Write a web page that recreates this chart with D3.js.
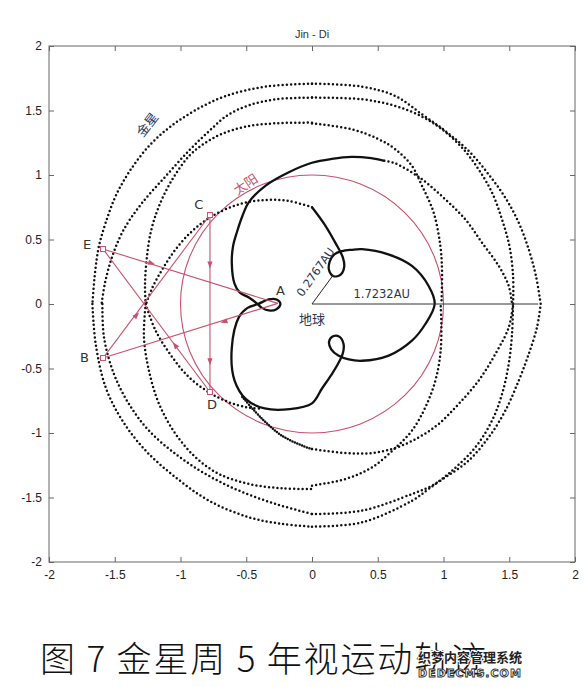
<!DOCTYPE html>
<html><head><meta charset="utf-8">
<script src="https://cdn.jsdelivr.net/npm/d3@7"></script>
<style>body{margin:0;background:#fff}svg{display:block}</style>
</head><body>
<svg id="c" width="587" height="687"></svg>
<script>
const title = "Jin - Di";
const caption = "图 7 金星周 5 年视运动轨迹";
const xTicks = [-2,-1.5,-1,-0.5,0,0.5,1,1.5,2];
const yTicks = [-2,-1.5,-1,-0.5,0,0.5,1,1.5,2];
const xTickLabels = ["-2","-1.5","-1","-0.5","0","0.5","1","1.5","2"];
const yTickLabels = ["-2","-1.5","-1","-0.5","0","0.5","1","1.5","2"];

// dense (solid-looking) part of Venus' geocentric path
const venusSolid = [[0,0.75],[0.10,0.61],[0.18,0.47],[0.235,0.36],[0.245,0.29],[0.22,0.23],[0.165,0.215],[0.13,0.26],[0.135,0.33],[0.17,0.385],[0.23,0.41],[0.30,0.42],[0.38,0.425],[0.58,0.385],[0.76,0.295],[0.887,0.14],[0.933,0.0],[0.862,-0.155],[0.76,-0.284],[0.583,-0.40],[0.38,-0.44],[0.28,-0.43],[0.20,-0.40],[0.145,-0.35],[0.13,-0.29],[0.16,-0.25],[0.21,-0.255],[0.24,-0.31],[0.235,-0.38],[0.20,-0.46],[0.15,-0.545],[0.076,-0.655],[0,-0.77],[-0.17,-0.815],[-0.36,-0.81],[-0.50,-0.74],[-0.59,-0.59],[-0.61,-0.34],[-0.555,-0.10],[-0.49,-0.03],[-0.41,0.0],[-0.33,0.035],[-0.27,0.035],[-0.24,0.0],[-0.27,-0.04],[-0.33,-0.05],[-0.38,-0.03],[-0.42,0.005],[-0.48,0.05],[-0.55,0.09],[-0.59,0.16],[-0.61,0.32],[-0.60,0.45],[-0.57,0.56],[-0.53,0.68],[-0.48,0.79],[-0.35,0.92],[-0.18,1.02],[0,1.095],[0.15,1.125],[0.30,1.14],[0.45,1.13],[0.55,1.11]];
// denser dotted arc
const venusDense = [[-0.53,-0.72],[-0.38,-0.89],[-0.23,-1.02],[-0.07,-1.10],[0,-1.124]];
// sparse dotted arcs
const arcLa = [[0,1.708],[-0.352,1.685],[-0.657,1.612],[-0.890,1.500],[-1.080,1.372],[-1.232,1.233],[-1.380,1.040],[-1.493,0.837],[-1.569,0.630],[-1.620,0.450],[-1.650,0.243],[-1.670,0.0]];
const arcLb = [[0,1.600],[-0.276,1.587],[-0.479,1.540],[-0.640,1.465],[-0.783,1.340],[-0.935,1.190],[-1.113,0.990],[-1.290,0.786],[-1.430,0.579],[-1.518,0.372],[-1.574,0.165],[-1.600,0.0]];
const arcLc = [[0,1.406],[-0.276,1.401],[-0.504,1.375],[-0.682,1.320],[-0.809,1.251],[-0.935,1.147],[-1.062,0.966],[-1.163,0.760],[-1.227,0.553],[-1.260,0.320],[-1.270,0.140],[-1.265,0.0]];
const arcLd = [[0,0.75],[-0.175,0.798],[-0.352,0.806],[-0.555,0.773],[-0.758,0.682],[-0.910,0.566],[-1.037,0.424],[-1.138,0.269],[-1.214,0.127],[-1.262,0.0]];
const arcT1 = [[0,1.708],[0.380,1.685],[0.634,1.612],[0.837,1.470],[1.014,1.341],[1.191,1.186],[1.343,1.005],[1.470,0.824],[1.572,0.630],[1.648,0.424],[1.703,0.217],[1.739,0.0]];
const arcT2 = [[0,1.600],[0.380,1.587],[0.634,1.535],[0.837,1.452],[0.989,1.354],[1.141,1.212],[1.267,1.044],[1.369,0.863],[1.445,0.656],[1.501,0.450],[1.529,0.217],[1.529,0.0]];
const arcT3 = [[0,1.40],[0.304,1.354],[0.507,1.277],[0.634,1.199],[0.760,1.070],[0.837,0.915],[0.925,0.708],[0.976,0.450],[0.989,0.243],[0.984,0.0]];
const arcT4 = [[0.55,1.11],[0.634,1.090],[0.837,0.966],[1.014,0.811],[1.166,0.656],[1.293,0.475],[1.420,0.295],[1.496,0.140],[1.521,0.0]];
const arcZ1 = [[0,-1.124],[0.253,-1.155],[0.456,-1.155],[0.634,-1.116],[0.811,-1.034],[0.963,-0.930],[1.115,-0.775],[1.267,-0.594],[1.394,-0.388],[1.496,-0.181],[1.529,0]];
const arcZ2 = [[0,-1.408],[0.253,-1.357],[0.456,-1.266],[0.634,-1.116],[0.760,-0.982],[0.862,-0.801],[0.938,-0.594],[0.976,-0.388],[0.984,-0.181],[0.978,0]];
const arcZ3 = [[0,-1.628],[0.380,-1.602],[0.760,-1.473],[0.887,-1.421],[1.014,-1.344],[1.191,-1.214],[1.343,-1.034],[1.470,-0.827],[1.572,-0.594],[1.648,-0.388],[1.711,-0.181],[1.739,0]];
const arcZ4 = [[0,-1.726],[0.380,-1.693],[0.760,-1.525],[0.887,-1.434],[1.065,-1.292],[1.242,-1.111],[1.369,-0.904],[1.445,-0.698],[1.496,-0.465],[1.521,-0.233],[1.529,0]];
const arcBX = [[-1.265,0],[-1.278,-0.258],[-1.240,-0.517],[-1.163,-0.775],[-1.037,-1.008],[-0.885,-1.189],[-0.707,-1.318],[-0.479,-1.395],[-0.226,-1.429],[0,-1.434]];
const arcB2 = [[-1.594,0],[-1.582,-0.258],[-1.506,-0.543],[-1.392,-0.775],[-1.240,-0.982],[-1.037,-1.163],[-0.809,-1.318],[-0.555,-1.447],[-0.276,-1.550],[0,-1.628]];
const arcB3 = [[-1.670,0],[-1.645,-0.310],[-1.569,-0.646],[-1.442,-0.904],[-1.265,-1.137],[-1.037,-1.344],[-0.783,-1.525],[-0.479,-1.654],[-0.226,-1.705],[0,-1.726]];
const arcBD = [[-1.265,0],[-1.189,-0.207],[-1.062,-0.413],[-0.935,-0.568],[-0.783,-0.685],[-0.631,-0.762],[-0.50,-0.80],[-0.40,-0.81]];

// Sun circle and geometry
const sunRadius = 1;
const ptE = [-1.589,0.426], ptB = [-1.589,-0.419], ptC = [-0.776,0.690], ptD = [-0.776,-0.682], ptX = [-1.262,-0.008], ptA = [-0.26,0.005];
const redLines = [[ptE,ptA],[ptB,ptA],[ptE,ptD],[ptB,ptC],[ptC,ptD]];
const arrows = [[[-1.219,0.316],ptA],[[-1.333,-0.085],ptX],[[-1.042,-0.318],ptX],[[-0.67,-0.137],ptB],[[-0.776,0.302],ptD],[[-0.776,-0.447],ptD]];
const squares = [ptE,ptB,ptC,ptD];
const pointLabels = [["E",-1.71,0.45],["B",-1.73,-0.42],["C",-0.86,0.76],["D",-0.76,-0.79],["A",-0.24,0.10]];
const earthLine1 = [[0,0],[0.162,0.225]];
const earthLine2 = [[0,0],[1.72,0]];

const svg = d3.select("#c");
const L=49,R=575,T=46,B=562;
const x = d3.scaleLinear().domain([-2,2]).range([L,R]);
const y = d3.scaleLinear().domain([-2,2]).range([B,T]);
const line = d3.line().x(d=>x(d[0])).y(d=>y(d[1])).curve(d3.curveCatmullRom.alpha(0.5));
const red = "#c9506e";

svg.append("rect").attr("x",L).attr("y",T).attr("width",R-L).attr("height",B-T).attr("fill","none").attr("stroke","#666").attr("stroke-width",1);
const gx = svg.append("g").attr("transform",`translate(0,${B})`).call(d3.axisBottom(x).tickValues(xTicks).tickFormat((d,i)=>xTickLabels[i]).tickSizeInner(-5).tickSizeOuter(0).tickPadding(8));
const gxt = svg.append("g").attr("transform",`translate(0,${T})`).call(d3.axisTop(x).tickValues(xTicks).tickFormat("").tickSizeInner(-5).tickSizeOuter(0));
const gy = svg.append("g").attr("transform",`translate(${L},0)`).call(d3.axisLeft(y).tickValues(yTicks).tickFormat((d,i)=>yTickLabels[i]).tickSizeInner(-5).tickSizeOuter(0).tickPadding(7));
const gyr = svg.append("g").attr("transform",`translate(${R},0)`).call(d3.axisRight(y).tickValues(yTicks).tickFormat("").tickSizeInner(-5).tickSizeOuter(0));
[gx,gxt,gy,gyr].forEach(g=>{g.select(".domain").remove();g.selectAll("line").attr("stroke","#666");g.selectAll("text").attr("fill","#222").style("font-family","Liberation Sans, Arial, sans-serif").style("font-size","12px");});

svg.append("text").attr("x",(L+R)/2).attr("y",38).attr("text-anchor","middle").style("font-family","Liberation Sans, Arial, sans-serif").style("font-size","11px").attr("fill","#333").text(title);

svg.append("ellipse").attr("cx",x(0)).attr("cy",y(0)).attr("rx",x(sunRadius)-x(0)).attr("ry",y(0)-y(sunRadius)).attr("fill","none").attr("stroke",red).attr("stroke-width",1.1);

const sparse = [arcLa,arcLb,arcLc,arcLd,arcT1,arcT2,arcT3,arcT4,arcZ1,arcZ2,arcZ3,arcZ4,arcBX,arcB2,arcB3,arcBD];
svg.append("g").selectAll("path").data(sparse).join("path").attr("d",line).attr("fill","none").attr("stroke","#111").attr("stroke-width",2.5).attr("stroke-linecap","round").attr("stroke-dasharray","0 4.2");
svg.append("path").datum(venusDense).attr("d",line).attr("fill","none").attr("stroke","#111").attr("stroke-width",2.5).attr("stroke-linecap","round").attr("stroke-dasharray","0 2.6");
svg.append("path").datum(venusSolid).attr("d",line).attr("fill","none").attr("stroke","#111").attr("stroke-width",2.3);

const straight = d3.line().x(d=>x(d[0])).y(d=>y(d[1]));
svg.append("path").datum(earthLine1).attr("d",straight).attr("stroke","#222").attr("stroke-width",1);
svg.append("path").datum(earthLine2).attr("d",straight).attr("stroke","#333").attr("stroke-width",1);

svg.append("g").selectAll("path").data(redLines).join("path").attr("d",straight).attr("stroke",red).attr("stroke-width",1.1).attr("fill","none");
svg.append("g").selectAll("path").data(arrows).join("path")
  .attr("d","M3.5,0 L-3.5,-2.6 L-3.5,2.6 Z").attr("fill",red)
  .attr("transform",d=>{const a=Math.atan2(y(d[1][1])-y(d[0][1]),x(d[1][0])-x(d[0][0]))*180/Math.PI;return `translate(${x(d[0][0])},${y(d[0][1])}) rotate(${a})`;});
svg.append("g").selectAll("rect").data(squares).join("rect").attr("x",d=>x(d[0])-2.5).attr("y",d=>y(d[1])-2.5).attr("width",5).attr("height",5).attr("fill","#fff").attr("stroke",red).attr("stroke-width",1);

svg.append("g").selectAll("text").data(pointLabels).join("text").attr("x",d=>x(d[1])).attr("y",d=>y(d[2])).attr("text-anchor","middle").attr("dominant-baseline","middle").style("font-family","DejaVu Sans, sans-serif").style("font-size","13px").attr("fill","#333").text(d=>d[0]);

const cjk = "Noto Sans CJK SC, sans-serif";
svg.append("text").attr("transform",`translate(${x(-1.245)},${y(1.385)}) rotate(-52)`).attr("text-anchor","middle").attr("dominant-baseline","middle").style("font-family",cjk).style("font-size","13px").attr("fill","#233466").text("金星");
svg.append("text").attr("transform",`translate(${x(-0.5)},${y(0.92)}) rotate(-34)`).attr("text-anchor","middle").attr("dominant-baseline","middle").style("font-family",cjk).style("font-size","13px").attr("fill",red).text("太阳");
svg.append("text").attr("transform",`translate(${x(0.03)},${y(0.245)}) rotate(-55)`).attr("text-anchor","middle").attr("dominant-baseline","middle").style("font-family","DejaVu Sans, sans-serif").style("font-size","11.5px").attr("fill","#2b3550").text("0.2767AU");
svg.append("text").attr("x",x(0.53)).attr("y",y(0.05)).attr("text-anchor","middle").style("font-family","DejaVu Sans, sans-serif").style("font-size","11.5px").attr("fill","#2b3550").text("1.7232AU");
svg.append("text").attr("x",x(0.0)).attr("y",y(-0.13)).attr("text-anchor","middle").attr("dominant-baseline","middle").style("font-family",cjk).style("font-size","13px").attr("fill","#2b3550").text("地球");

svg.append("text").attr("x",40).attr("y",672).attr("textLength",446).attr("lengthAdjust","spacing").style("font-family",cjk).style("font-weight","300").style("font-size","35px").attr("fill","#111").text(caption);
svg.append("text").attr("x",470).attr("y",662).attr("text-anchor","middle").style("font-family",cjk).style("font-weight","700").style("font-size","13px").attr("fill","#222").attr("stroke","#fff").attr("stroke-width",2).attr("paint-order","stroke").text("织梦内容管理系统");
svg.append("text").attr("x",470).attr("y",677).attr("text-anchor","middle").style("font-family","DejaVu Sans, sans-serif").style("font-weight","700").style("font-size","11px").attr("letter-spacing","1").attr("fill","#fff").attr("stroke","#333").attr("stroke-width",0.9).text("DEDECMS.COM");
</script>
</body></html>
